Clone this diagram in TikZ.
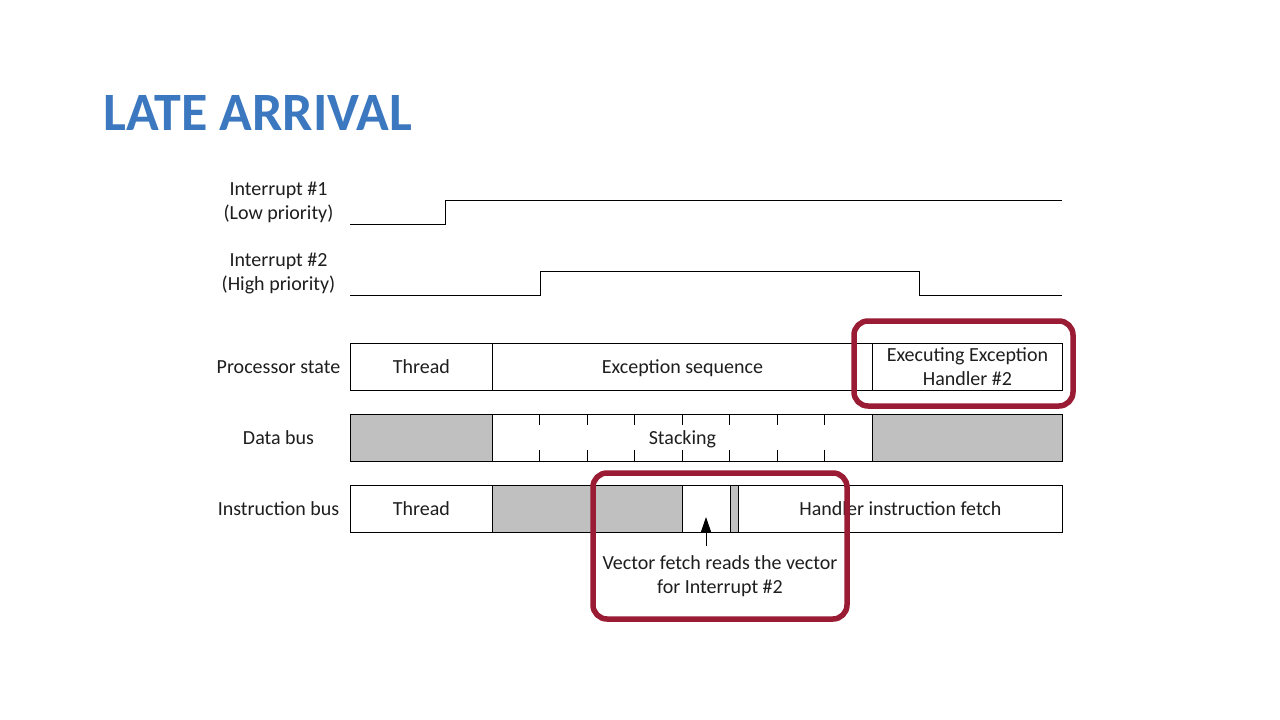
\documentclass[tikz,border=0pt]{standalone}
\usepackage{fontspec}
\setmainfont{Carlito}
\usetikzlibrary{arrows.meta}
\definecolor{titleblue}{HTML}{3C78C0}
\definecolor{hlred}{HTML}{9A1C34}
\definecolor{busgray}{HTML}{C0C0C0}
\definecolor{ink}{HTML}{1E1E1E}

\begin{document}
\begin{tikzpicture}[x=1pt,y=1pt]
      \tikzstyle{every node}+=[inner sep=0pt, text=ink, font=\fontsize{20}{24}\selectfont]
      \tikzstyle{seg}=[draw=black, line width=0.9pt, minimum height=47pt, anchor=west, align=center]
      \tikzstyle{oneline}=[text height=13pt, text depth=0pt]
      \tikzstyle{hlbox}=[draw=hlred, line width=5.5pt, rounded corners=14pt]
      \useasboundingbox (0,0) rectangle (1280,-720);
      \fill [white] (0,0) rectangle (1280,-720);
      \node [anchor=base west, text=titleblue, font=\fontsize{54}{60}\selectfont\bfseries] (title) at (103,-130) {LATE ARRIVAL};
      % signal labels
      \node [align=center] (irqa) at (278.5,-202) {Interrupt \#1\\(Low priority)};
      \node [align=center] (irqb) at (278.5,-273) {Interrupt \#2\\(High priority)};
      \node (pstate) at (278.5,-367) {Processor state};
      \node (dbus) at (278.5,-438) {Data bus};
      \node (ibus) at (278.5,-509) {Instruction bus};
      % waveforms
      \draw [black, line width=0.9pt] (350,-224) -- (445,-224) -- (445,-200) -- (1062,-200);
      \draw [black, line width=0.9pt] (350,-295) -- (540,-295) -- (540,-271) -- (919,-271) -- (919,-295) -- (1062,-295);
      % processor state
      \node [seg, oneline, minimum width=142pt] (ps1) at (350,-366.5) {Thread};
      \node [seg, oneline, minimum width=380pt] (ps2) at (492,-366.5) {Exception sequence};
      \node [seg, minimum width=190pt] (ps3) at (872,-366.5) {Executing Exception\\Handler \#2};
      % data bus
      \node [seg, fill=busgray, minimum width=142pt] (db1) at (350,-437.5) {};
      \node [seg, oneline, minimum width=380pt] (db2) at (492,-437.5) {Stacking};
      \node [seg, fill=busgray, minimum width=190pt] (db3) at (872,-437.5) {};
      \foreach \x in {539.5,587,634.5,682,729.5,777,824.5}
      {
        \draw [black, line width=0.9pt] (\x,-414) -- (\x,-425);
        \draw [black, line width=0.9pt] (\x,-450) -- (\x,-461);
      }
      % instruction bus
      \node [seg, oneline, minimum width=142pt] (ib1) at (350,-508.5) {Thread};
      \node [seg, fill=busgray, minimum width=190pt] (ib2) at (492,-508.5) {};
      \node [seg, minimum width=48pt] (ib3) at (682,-508.5) {};
      \node [seg, fill=busgray, minimum width=8pt] (ib4) at (730,-508.5) {};
      \node [seg, oneline, minimum width=324pt] (ib5) at (738,-508.5) {Handler instruction fetch};
      % vector fetch
      \node [align=center] (vtext) at (720,-576) {Vector fetch reads the vector\\for Interrupt \#2};
      \coordinate (vtail) at (706,-546);
      \coordinate (vhead) at (706,-517);
      \draw [black, line width=1pt, -{Triangle[length=15pt,width=10pt]}] (vtail) -- (vhead);
      % highlights
      \node [hlbox, minimum width=219pt, minimum height=85pt] (hla) at (963.5,-363.5) {};
      \node [hlbox, minimum width=254pt, minimum height=146pt] (hlb) at (720,-546) {};
\end{tikzpicture}
\end{document}
